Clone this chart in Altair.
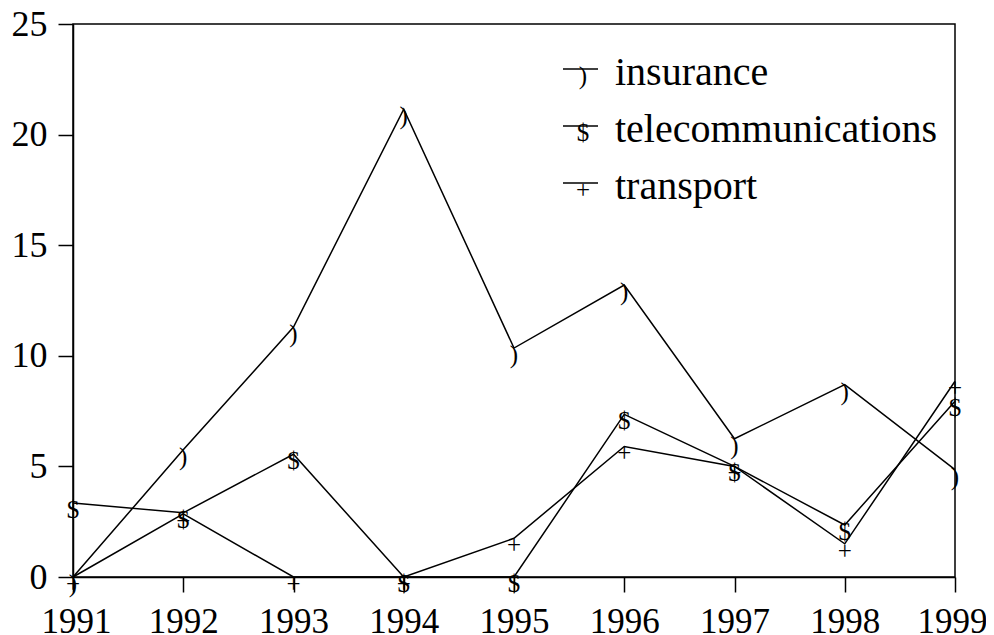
import altair as alt
import pandas as pd

# ---- data ----
years = [1991, 1992, 1993, 1994, 1995, 1996, 1997, 1998, 1999]
insurance = [0.0, 5.75, 11.3, 21.15, 10.35, 13.2, 6.25, 8.7, 4.85]
telecommunications = [3.35, 2.9, 5.55, 0.0, 0.0, 7.35, 5.0, 2.35, 7.95]
transport = [0.0, 2.85, 0.0, 0.0, 1.75, 5.9, 5.0, 1.5, 8.85]
series_names = ["insurance", "telecommunications", "transport"]
series_glyphs = [")", "$", "+"]
y_ticks = [0, 5, 10, 15, 20, 25]

rows = []
for name, glyph, vals in zip(series_names, series_glyphs,
                             [insurance, telecommunications, transport]):
    for yr, v in zip(years, vals):
        rows.append({"year": yr, "value": v, "series": name, "glyph": glyph})
df = pd.DataFrame(rows)
legend_df = pd.DataFrame({"series": series_names, "glyph": series_glyphs,
                          "row": [0, 1, 2]})

FONT = "Liberation Serif"

x = alt.X("year:Q",
          scale=alt.Scale(domain=[1991, 1999], nice=False, zero=False),
          axis=alt.Axis(values=years, format="d", title=None, labelPadding=12,
                        labelOverlap=False, labelFlush=True,
                        labelFlushOffset=32, labelFontSize=35))
y = alt.Y("value:Q",
          scale=alt.Scale(domain=[0, 25], nice=False),
          axis=alt.Axis(values=y_ticks, title=None, labelPadding=11,
                        labelFlush=False))

lines = alt.Chart(df).mark_line(color="black", strokeWidth=1.5).encode(
    x=x, y=y, detail="series:N")
markers = alt.Chart(df).mark_text(font=FONT, fontSize=25, color="black",
                                  baseline="middle", dy=7).encode(
    x=x, y=y, text="glyph:N")

layers = [lines, markers]
for i in range(3):
    base = alt.Chart(legend_df).transform_filter(alt.datum.row == i)
    seg_y = 45 + 57 * i
    layers.append(base.mark_rule(color="black", strokeWidth=1.5).encode(
        x=alt.value(490), x2=alt.value(525), y=alt.value(seg_y)))
    layers.append(base.mark_text(font=FONT, fontSize=25, color="black",
                                 baseline="middle", align="center", dy=7).encode(
        x=alt.value(510), y=alt.value(seg_y), text="glyph:N"))
    layers.append(base.mark_text(font=FONT, fontSize=40, color="black",
                                 baseline="alphabetic", align="left").encode(
        x=alt.value(542), y=alt.value(61 + 57 * i), text="series:N"))

chart = alt.layer(*layers).properties(
    width=882, height=553, autosize="none",
    padding={"left": 65, "top": 16, "right": 31, "bottom": 56},
    background="white",
).configure_axis(
    domainColor="black", tickColor="black", labelColor="black",
    labelFont=FONT, labelFontSize=36, tickSize=15, domainWidth=1.5,
    tickWidth=1.5, grid=False,
).configure_view(stroke="black", strokeWidth=1.5)

chart.save("out.html", embed_options={"renderer": "svg", "actions": False})
